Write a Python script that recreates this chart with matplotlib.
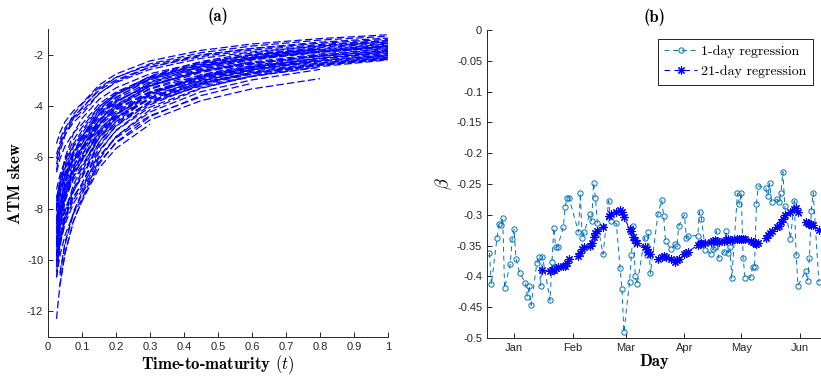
import numpy as np
import matplotlib
matplotlib.use("Agg")
import matplotlib.pyplot as plt
import matplotlib.dates as mdates
from matplotlib.ticker import FuncFormatter

plt.rcParams["mathtext.fontset"] = "cm"
plt.rcParams["axes.unicode_minus"] = False
plt.rcParams["font.family"] = "Liberation Sans"

nan = np.nan

# (a) ATM skew term structures at these maturities
ttm = [0.025, 0.035, 0.05, 0.075, 0.1, 0.15, 0.2, 0.3, 0.45, 0.6, 0.8, 1.0]
skew_curves = [
    [-5.46, -5.03, -4.61, -4.18, -3.90, -3.18, -2.75, -2.24, -1.83, -1.58, -1.37, -1.22],
    [-6.05, -5.57, -5.11, -4.63, -4.32, -3.52, -3.04, -2.48, -2.02, -1.75, -1.51, -1.35],
    [-6.50, -5.79, -5.14, -4.47, -4.06, -3.39, -2.98, -2.48, -2.07, -1.82, -1.60, -1.45],
    [-7.56, -6.97, -6.39, -5.79, -5.40, -4.31, -3.67, -2.93, -2.34, -1.99, -1.70, -1.50],
    [-7.94, -7.08, -6.27, -5.47, -4.96, -4.04, -3.50, -2.85, -2.32, -2.01, -1.73, -1.55],
    [-8.06, -6.99, -6.01, -5.06, -4.48, -3.74, -3.29, -2.74, -2.29, -2.01, -1.77, nan],
    [-9.50, -8.48, -7.51, -6.55, -5.94, -4.74, -4.04, -3.22, -2.57, -2.19, -1.87, -1.65],
    [-7.62, -7.02, -6.44, -5.83, -5.44, -4.43, -3.83, -3.12, -2.54, -2.20, -1.90, -1.70],
    [-7.71, -6.88, -6.10, -5.31, -4.82, -4.02, -3.53, -2.95, -2.46, -2.16, -1.90, -1.72],
    [-10.26, -9.15, -8.11, -7.06, -6.41, -5.11, -4.36, -3.48, -2.78, -2.37, -2.01, -1.78],
    [-9.22, -8.22, -7.29, -6.35, -5.76, -4.69, -4.06, -3.31, -2.69, -2.33, -2.01, nan],
    [-7.25, -6.68, -6.13, -5.55, -5.18, -4.32, -3.80, -3.17, -2.64, -2.33, -2.04, -1.85],
    [-9.48, -8.73, -8.01, -7.26, -6.77, -5.40, -4.60, -3.67, -2.93, -2.50, -2.13, -1.88],
    [-8.60, -7.92, -7.26, -6.58, -6.14, -5.01, -4.33, -3.53, -2.87, -2.49, -2.15, -1.92],
    [-8.74, -7.79, -6.91, -6.02, -5.46, -4.55, -4.01, -3.34, -2.79, -2.45, -2.15, -1.95],
    [-8.96, -8.26, -7.57, -6.86, -6.40, -5.21, -4.51, -3.67, -2.99, -2.59, -2.24, -2.00],
    [-10.18, -9.38, -8.60, -7.79, -7.27, -5.80, -4.94, -3.95, -3.15, -2.68, nan, nan],
    [-9.18, -8.19, -7.26, -6.33, -5.74, -4.79, -4.21, -3.51, -2.93, -2.58, -2.27, -2.05],
    [-10.66, -9.50, -8.42, -7.34, -6.66, -5.42, -4.69, -3.82, -3.11, -2.69, -2.33, -2.08],
    [-9.41, -8.39, -7.44, -6.48, -5.88, -4.90, -4.31, -3.60, -3.00, -2.64, -2.32, -2.10],
    [-10.68, -9.84, -9.03, -8.18, -7.63, -6.09, -5.19, -4.14, -3.31, -2.82, -2.40, -2.12],
    [-8.43, -7.77, -7.12, -6.45, -6.02, -5.02, -4.42, -3.68, -3.07, -2.70, -2.38, -2.15],
    [-9.86, -9.08, -8.33, -7.55, -7.04, -5.74, -4.96, -4.04, -3.29, -2.85, -2.46, -2.20],
    [-9.76, -8.70, -7.72, -6.72, -6.10, -5.09, -4.48, -3.73, -3.12, -2.74, -2.41, -2.18],
    [nan, -10.59, -9.39, -8.18, -7.42, -6.19, -5.44, -4.54, -3.79, -3.33, -2.93, nan],
    [-10.00, -9.21, -8.45, -7.65, -7.14, -5.95, -5.24, -4.37, -3.64, nan, nan, nan],
    [nan, -10.99, -9.74, -8.49, -7.70, -6.42, -5.65, -4.71, nan, nan, nan, nan],
    [-12.29, -10.96, -9.72, -8.46, -7.68, -6.26, -5.41, -4.41, -3.59, -3.11, nan, nan],
    [-9.32, -8.08, -6.95, -5.85, -5.18, -4.22, -3.65, -2.98, -2.43, -2.10, -1.81, -1.62],
    [-7.97, -7.34, -6.73, -6.10, -5.69, -4.54, -3.87, -3.09, -2.46, -2.10, -1.79, -1.58],
    [nan, -10.50, -9.31, -8.11, -7.36, -6.00, -5.19, -4.23, -3.44, -2.98, -2.57, nan],
    [-6.27, -5.59, -4.96, -4.32, -3.92, -3.27, -2.88, -2.40, -2.00, -1.76, -1.55, -1.40],
    [nan, -5.29, -4.85, -4.40, -4.10, -3.34, -2.89, -2.35, -1.92, -1.66, -1.43, -1.28],
    [-8.96, -7.99, -7.08, -6.17, -5.60, -4.56, -3.95, -3.21, -2.62, -2.27, nan, nan],
    [-10.08, -8.74, -7.52, -6.33, -5.60, -4.67, -4.11, -3.43, -2.86, -2.51, -2.21, -2.00],
    [-5.88, -5.42, -4.97, -4.50, -4.20, -3.51, -3.08, -2.57, -2.14, -1.89, -1.66, -1.50],
    [-6.58, -6.06, -5.56, -5.04, -4.70, -3.92, -3.45, -2.88, -2.40, -2.11, -1.86, -1.68],
    [-10.48, -9.35, -8.29, -7.22, -6.55, -5.23, -4.46, -3.56, -2.84, -2.42, -2.06, -1.82],
    [-9.73, -8.68, -7.69, -6.70, -6.08, -4.95, -4.28, -3.49, -2.84, -2.46, -2.13, -1.90],
    [-7.92, -7.30, -6.70, -6.07, -5.66, -4.72, -4.15, -3.46, -2.89, -2.54, -2.23, -2.02],
    [-7.88, -7.26, -6.66, -6.04, -5.63, -4.59, -3.97, -3.23, -2.63, -2.28, -1.97, -1.76],
    [-8.10, -7.22, -6.40, -5.58, -5.06, -4.12, -3.56, -2.90, -2.37, -2.05, -1.77, nan],
    [-9.49, -8.75, -8.02, -7.27, -6.78, -5.53, -4.78, -3.89, -3.17, -2.75, -2.37, -2.12],
    [-9.83, -9.06, -8.30, -7.53, -7.02, -5.60, -4.77, -3.81, -3.04, -2.59, -2.21, nan],
    [-8.35, -7.45, -6.60, -5.75, -5.22, -4.17, -3.55, -2.83, -2.26, -1.93, -1.64, -1.45],
    [-8.82, -8.13, -7.45, -6.75, -6.30, -5.25, -4.62, -3.85, -3.22, -2.83, -2.49, nan],
    [-9.38, -8.13, -6.99, -5.89, -5.21, -4.34, -3.82, -3.19, -2.66, -2.34, -2.06, -1.86],
    [-8.50, -7.58, -6.72, -5.85, -5.31, -4.33, -3.74, -3.05, -2.49, -2.15, -1.86, -1.66],
]

# (b) regression slopes, dates as day offsets from 1 Jan
start_date = np.datetime64("2015-01-01")
days_1d = [-13, -12, -9, -8, -7, -6, -5, -2, -1, 0,
           1, 3, 6, 7, 8, 9, 12, 13, 14, 15,
           19, 20, 21, 22, 23, 26, 27, 28, 29, 34,
           35, 36, 37, 40, 41, 42, 43, 44, 47, 50,
           51, 54, 56, 57, 58, 61, 62, 63, 64, 65,
           69, 70, 71, 72, 76, 78, 79, 80, 83, 85,
           86, 87, 90, 91, 92, 97, 98, 99, 101, 104,
           105, 106, 107, 108, 111, 112, 113, 114, 115, 118,
           119, 120, 121, 122, 125, 126, 127, 128, 129, 133,
           134, 135, 136, 139, 140, 141, 142, 143, 146, 148,
           149, 150, 154, 155, 156, 157, 158, 161]
beta_1d = [-0.362, -0.413, -0.337, -0.315, -0.317, -0.305, -0.419, -0.380, -0.339, -0.323,
           -0.371, -0.395, -0.410, -0.433, -0.415, -0.447, -0.379, -0.368, -0.415, -0.368,
           -0.439, -0.377, -0.321, -0.353, -0.352, -0.320, -0.287, -0.273, -0.272, -0.328,
           -0.265, -0.338, -0.328, -0.299, -0.310, -0.248, -0.273, -0.314, -0.364, -0.277,
           -0.310, -0.314, -0.386, -0.421, -0.491, -0.409, -0.365, -0.318, -0.400, -0.413,
           -0.337, -0.365, -0.328, -0.395, -0.299, -0.276, -0.302, -0.343, -0.356, -0.348,
           -0.350, -0.318, -0.300, -0.338, -0.334, -0.334, -0.295, -0.306, -0.357, -0.363,
           -0.356, -0.352, -0.326, -0.370, -0.360, -0.326, -0.362, -0.353, -0.403, -0.265,
           -0.283, -0.264, -0.370, -0.403, -0.401, -0.384, -0.385, -0.283, -0.253, -0.257,
           -0.270, -0.249, -0.279, -0.275, -0.279, -0.264, -0.230, -0.286, -0.339, -0.277,
           -0.365, -0.415, -0.391, -0.407, -0.370, -0.293, -0.264, -0.409]
# 21-day regression starts on day 15 (same dates after that)
first_21d = 19
beta_21d = [-0.390, -0.392, -0.390, -0.389, -0.386, -0.385, -0.383, -0.383, -0.378, -0.372,
            -0.367, -0.362, -0.355, -0.353, -0.350, -0.346, -0.336, -0.330, -0.326, -0.319,
            -0.302, -0.298, -0.296, -0.292, -0.296, -0.303, -0.323, -0.326, -0.336, -0.341,
            -0.346, -0.353, -0.356, -0.360, -0.364, -0.371, -0.368, -0.367, -0.369, -0.372,
            -0.376, -0.374, -0.371, -0.364, -0.362, -0.360, -0.349, -0.347, -0.346, -0.345,
            -0.344, -0.343, -0.341, -0.342, -0.344, -0.342, -0.341, -0.340, -0.341, -0.341,
            -0.340, -0.339, -0.339, -0.339, -0.340, -0.343, -0.344, -0.346, -0.347, -0.345,
            -0.337, -0.333, -0.329, -0.327, -0.320, -0.318, -0.311, -0.306, -0.300, -0.295,
            -0.291, -0.289, -0.295, -0.312, -0.314, -0.315, -0.316, -0.317, -0.324]

axis_col = "#262626"
label_font = dict(fontfamily="cmb10", fontsize=12, color="black")


def style_axes(ax):
    for side in ["top", "right"]:
        ax.spines[side].set_visible(False)
    for side in ["left", "bottom"]:
        ax.spines[side].set_color(axis_col)
        ax.spines[side].set_linewidth(0.7)
    ax.tick_params(direction="in", length=3.5, width=0.7, colors=axis_col, labelsize=8)


fig = plt.figure(figsize=(8.21, 3.83), dpi=100)

# ---- (a)
ax1 = fig.add_axes([0.0585, 0.120, 0.414, 0.804])
for row in skew_curves:
    ax1.plot(ttm, row, color="blue", lw=0.9, ls=(0, (6, 2.5)))
ax1.set_xlim(0, 1)
ax1.set_ylim(-13, -1)
ax1.set_xticks(np.arange(0, 1.01, 0.1))
ax1.set_yticks([-12, -10, -8, -6, -4, -2])
ax1.xaxis.set_major_formatter(FuncFormatter(lambda v, p: f"{round(v, 2):g}"))
style_axes(ax1)
ax1.set_xlabel("Time-to-maturity $(t)$", labelpad=1, **label_font)
ax1.set_ylabel("ATM skew", labelpad=3, **label_font)
ax1.set_title("(a)", pad=6, **label_font)

# ---- (b)
ax2 = fig.add_axes([0.5932, 0.1175, 0.4068, 0.804])
x_1d = start_date + np.array(days_1d).astype("timedelta64[D]")
ax2.plot(x_1d, beta_1d, color="#0072BD", lw=0.7, ls=(0, (5, 4)),
         marker="o", ms=3.8, mfc="none", mew=0.7, label="1-day regression")
ax2.plot(x_1d[first_21d:], beta_21d, color="blue", lw=0.8, ls=(0, (5, 4)),
         marker=(8, 2, 0), ms=6, mew=0.8, label="21-day regression")
ax2.set_xlim(np.datetime64("2014-12-17T17:00"), np.datetime64("2015-06-12T03:00"))
ax2.set_ylim(-0.5, 0)
ax2.set_yticks(np.linspace(-0.5, 0, 11))
ax2.yaxis.set_major_formatter(FuncFormatter(lambda v, p: f"{round(v, 2) + 0:g}"))
ax2.xaxis.set_major_locator(mdates.MonthLocator())
ax2.xaxis.set_major_formatter(mdates.DateFormatter("%b"))
style_axes(ax2)
ax2.set_xlabel("Day", labelpad=1, **label_font)
ax2.set_ylabel(r"$\beta$", fontsize=13, labelpad=2)
ax2.set_title("(b)", pad=6, **label_font)
leg = ax2.legend(loc="upper right", bbox_to_anchor=(0.976, 0.971), borderaxespad=0,
                 prop={"family": "cmr10", "size": 10}, fancybox=False, framealpha=1,
                 edgecolor="black", handlelength=2.4, handletextpad=0.3,
                 borderpad=0.45, labelspacing=0.55)
leg.get_frame().set_linewidth(0.6)

fig.savefig("out.png", dpi=100)
